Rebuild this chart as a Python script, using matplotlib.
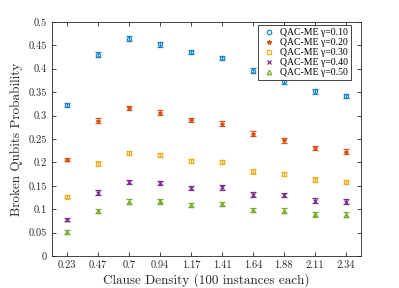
import matplotlib.pyplot as plt
from matplotlib.lines import Line2D

densities = ['0.23', '0.47', '0.7', '0.94', '1.17', '1.41', '1.64', '1.88', '2.11', '2.34']
gammas = ['0.10', '0.20', '0.30', '0.40', '0.50']

p_010 = [0.322, 0.430, 0.464, 0.452, 0.436, 0.423, 0.396, 0.373, 0.352, 0.342]
p_020 = [0.206, 0.289, 0.316, 0.306, 0.291, 0.283, 0.261, 0.247, 0.231, 0.223]
p_030 = [0.127, 0.197, 0.220, 0.216, 0.203, 0.201, 0.181, 0.175, 0.163, 0.158]
p_040 = [0.078, 0.135, 0.158, 0.156, 0.146, 0.147, 0.131, 0.130, 0.118, 0.116]
p_050 = [0.051, 0.096, 0.116, 0.117, 0.109, 0.111, 0.098, 0.097, 0.089, 0.088]
err = [0.004, 0.005, 0.005, 0.005, 0.004, 0.005, 0.005, 0.005, 0.005, 0.005]

series = [p_010, p_020, p_030, p_040, p_050]
colors = ['#1F84CC', '#D95319', '#EDB120', '#7E2F8E', '#77AC30']
markers = ['o', '*', 's', 'x', '^']

plt.rcParams['axes.formatter.use_mathtext'] = True
fig = plt.figure(figsize=(3.99, 2.88), dpi=100)
ax = fig.add_axes([0.130, 0.111, 0.775, 0.813])

xs = list(range(1, len(densities) + 1))
handles = []
for vals, g, c, m in zip(series, gammas, colors, markers):
    mfc = 'none' if m in ('o', 's', '^') else c
    ax.errorbar(xs, vals, yerr=err, fmt=m, color=c, ms=3, mew=0.9, mfc=mfc,
                elinewidth=0.9, capsize=2.2, capthick=0.9)
    handles.append(Line2D([], [], ls='none', marker=m, color=c, ms=3.2,
                          mew=0.9, mfc=mfc, label='QAC-ME γ=' + g))

ax.set_xlim(0.5, 10.5)
ax.set_ylim(0, 0.5)
ax.set_xticks(xs)
ax.set_xticklabels(densities, family='cmr10', fontsize=7.5)
ax.set_yticks([0, 0.05, 0.1, 0.15, 0.2, 0.25, 0.3, 0.35, 0.4, 0.45, 0.5])
ax.set_yticklabels(['0', '0.05', '0.1', '0.15', '0.2', '0.25', '0.3', '0.35', '0.4', '0.45', '0.5'],
                   family='cmr10', fontsize=7.5)
ax.tick_params(direction='in', top=True, right=True, length=3, width=0.6,
               colors='#262626', labelcolor='#262626')
for s in ax.spines.values():
    s.set_color('#262626')
    s.set_linewidth(0.6)

ax.set_xlabel('Clause Density (100 instances each)', family='cmr10', fontsize=9.5,
              color='#262626', labelpad=2)
ax.set_ylabel('Broken Qubits Probability', family='cmr10', fontsize=9.5,
              color='#262626', labelpad=4)

leg = ax.legend(handles=handles, loc='upper right',
                prop={'family': 'Liberation Serif', 'size': 7},
                fancybox=False, edgecolor='#262626', framealpha=1,
                handlelength=1.6, handletextpad=0.4, borderpad=0.3,
                labelspacing=0.1, borderaxespad=0, bbox_to_anchor=(0.968, 0.985))
leg.get_frame().set_linewidth(0.6)

fig.savefig('out.png', dpi=100)
